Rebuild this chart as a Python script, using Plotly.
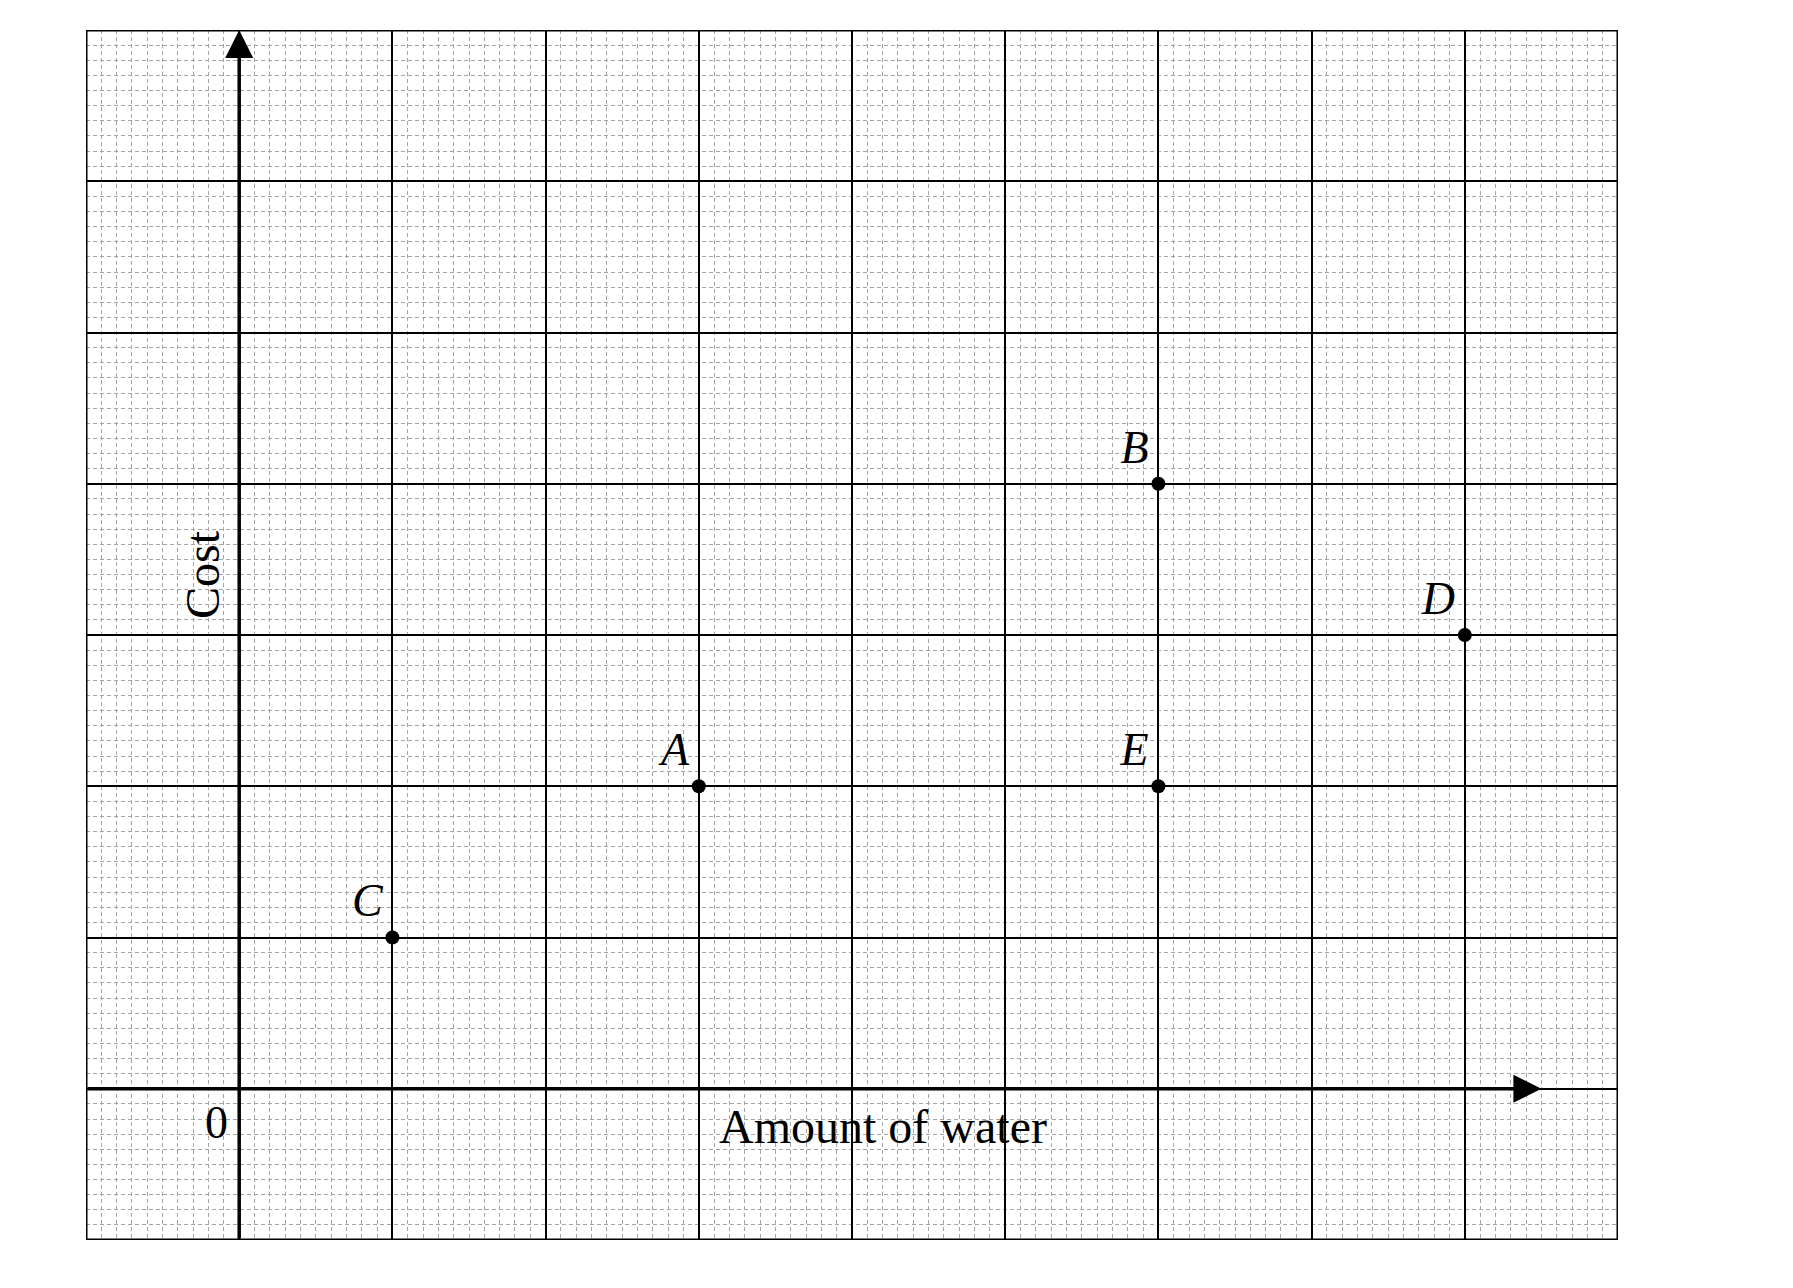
import plotly.graph_objects as go

# Data
point_labels = ["A", "B", "C", "D", "E"]
water_amount = [3, 6, 1, 8, 6]
cost_values = [2, 4, 1, 3, 2]

x_range = [-1, 9]
y_range = [-1, 7]
x_title = "Amount of water"
y_title = "Cost"
origin_label = "0"

SERIF = "Liberation Serif, Times New Roman, serif"

fig = go.Figure()

fig.add_trace(go.Scatter(
    x=water_amount, y=cost_values, mode="markers+text",
    text=point_labels, textposition="top left",
    textfont=dict(family=SERIF, size=46, color="black", style="italic"),
    marker=dict(color="black", size=14),
    showlegend=False, hoverinfo="skip", cliponaxis=False,
))

axis_common = dict(
    showticklabels=False, ticks="", zeroline=False,
    showgrid=True, gridcolor="#000000", gridwidth=2,
    dtick=1, tick0=0,
    minor=dict(dtick=0.1, tick0=0, showgrid=True, gridcolor="#a5a5a5",
               gridwidth=1, griddash="4px,3px"),
    showline=False, fixedrange=True,
)

fig.update_xaxes(range=x_range, **axis_common)
fig.update_yaxes(range=y_range, **axis_common)

# paper border
fig.add_shape(type="rect", xref="x", yref="y", x0=x_range[0], x1=x_range[1],
              y0=y_range[0], y1=y_range[1], line=dict(color="black", width=3))

# axes with arrows
fig.add_annotation(x=8.5, y=0, ax=x_range[0], ay=0, xref="x", yref="y",
                   axref="x", ayref="y", showarrow=True, arrowhead=2,
                   arrowsize=1.6, arrowwidth=3.5, arrowcolor="black", text="")
fig.add_annotation(x=0, y=y_range[1], ax=0, ay=y_range[0], xref="x", yref="y",
                   axref="x", ayref="y", showarrow=True, arrowhead=2,
                   arrowsize=1.6, arrowwidth=3.5, arrowcolor="black", text="")

fig.add_annotation(x=4.2, y=-0.25, xref="x", yref="y", text=x_title,
                   showarrow=False, font=dict(family=SERIF, size=48, color="black"))
fig.add_annotation(x=-0.24, y=3.4, xref="x", yref="y", text=y_title, textangle=-90,
                   showarrow=False, font=dict(family=SERIF, size=48, color="black"))
fig.add_annotation(x=-0.15, y=-0.22, xref="x", yref="y", text=origin_label,
                   showarrow=False, font=dict(family=SERIF, size=46, color="black"))

fig.update_layout(
    width=1793, height=1288,
    margin=dict(l=78, r=183, t=22, b=56),
    plot_bgcolor="white", paper_bgcolor="white",
)

fig.write_html("out.html")
